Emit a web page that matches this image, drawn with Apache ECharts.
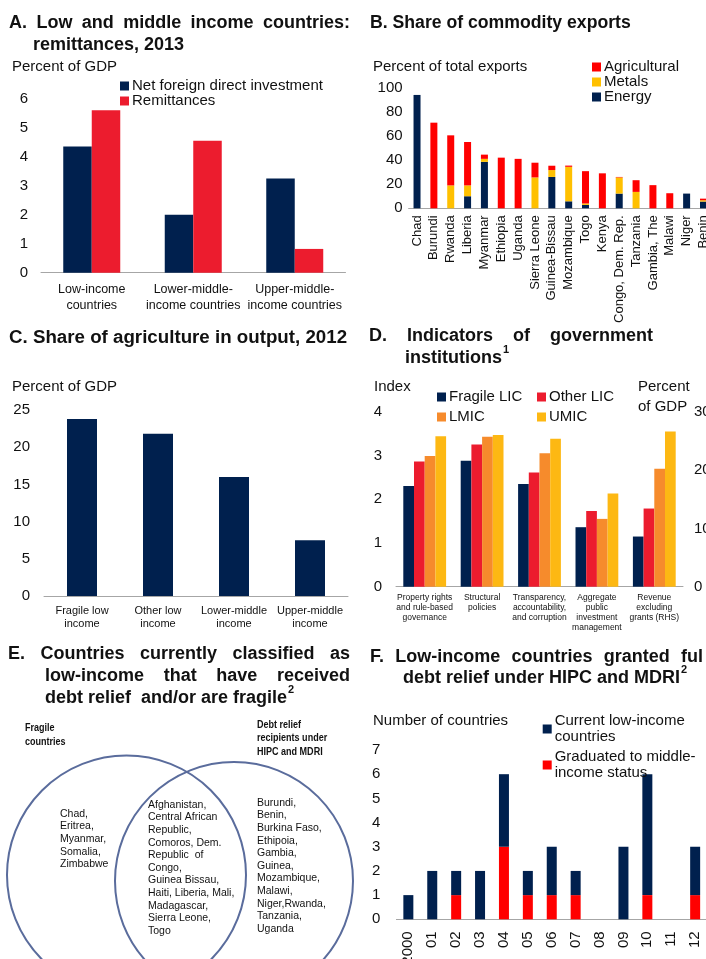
<!DOCTYPE html>
<html>
<head>
<meta charset="utf-8">
<script src="https://cdn.jsdelivr.net/npm/echarts@6/dist/echarts.min.js"></script>
<style>
html,body{margin:0;padding:0;background:#fff;}
#c{width:706px;height:959px;}
</style>
</head>
<body>
<div id="c"></div>
<script>
// ---------- DATA ----------
const catA = ['Low-income\ncountries', 'Lower-middle-\nincome countries', 'Upper-middle-\nincome countries'];
const fdiA = [4.35, 2.0, 3.25];
const remitA = [5.6, 4.55, 0.82];
const ticksA = [0, 1, 2, 3, 4, 5, 6];

const catB = ['Chad', 'Burundi', 'Rwanda', 'Liberia', 'Myanmar', 'Ethiopia', 'Uganda', 'Sierra Leone', 'Guinea-Bissau', 'Mozambique', 'Togo', 'Kenya', 'Congo, Dem. Rep.', 'Tanzania', 'Gambia, The', 'Malawi', 'Niger', 'Benin'];
const energyB = [94, 0, 0, 10, 38.5, 0, 0, 0, 26, 5.8, 2.8, 0, 12.2, 0, 0, 0, 12.2, 5.6];
const metalsB = [0, 0, 19, 9, 2.5, 0, 0, 25.6, 5.7, 28.6, 1.2, 0, 13.4, 13.6, 0, 0, 0, 1.1];
const agriB = [0, 71, 41.5, 36, 3.5, 42, 41, 12.2, 3.6, 1, 26.8, 29, 0.4, 9.7, 19.2, 12.5, 0, 1.3];

const catC = ['Fragile low\nincome', 'Other low\nincome', 'Lower-middle\nincome', 'Upper-middle\nincome'];
const agriShareC = [23.8, 21.8, 16.0, 7.5];

const catD = ['Property rights\nand rule-based\ngovernance', 'Structural\npolicies', 'Transparency,\naccountability,\nand corruption', 'Aggregate\npublic\ninvestment\nmanagement', 'Revenue\nexcluding\ngrants (RHS)'];
const fragileD = [2.30, 2.88, 2.35, 1.36];
const otherD = [2.86, 3.25, 2.61, 1.73];
const lmicD = [2.99, 3.43, 3.05, 1.55];
const umicD = [3.44, 3.47, 3.38, 2.13];
// Revenue excluding grants (percent of GDP, RHS): Fragile LIC, Other LIC, LMIC, UMIC
const revenueD = [8.6, 13.4, 20.2, 26.6];

const catF = ['2000', '01', '02', '03', '04', '05', '06', '07', '08', '09', '10', '11', '12'];
const currentF = [1, 2, 1, 2, 3, 1, 2, 1, 0, 3, 5, 0, 2];
const graduatedF = [0, 0, 1, 0, 3, 1, 1, 1, 0, 0, 1, 0, 1];

const vennFragileOnly = ['Chad,', 'Eritrea,', 'Myanmar,', 'Somalia,', 'Zimbabwe'];
const vennBoth = ['Afghanistan,', 'Central African', 'Republic,', 'Comoros, Dem.', 'Republic  of', 'Congo,', 'Guinea Bissau,', 'Haiti, Liberia, Mali,', 'Madagascar,', 'Sierra Leone,', 'Togo'];
const vennDebtOnly = ['Burundi,', 'Benin,', 'Burkina Faso,', 'Ethipoia,', 'Gambia,', 'Guinea,', 'Mozambique,', 'Malawi,', 'Niger,Rwanda,', 'Tanzania,', 'Uganda'];

// ---------- STYLE ----------
const FF = "'Liberation Sans', Arial, Helvetica, sans-serif";
const TXT = '#111';
const NAVY = '#00204e';
const RED_A = '#ec1c2e';
const RED = '#ff0000';
const YEL = '#ffc000';
const ORANGE = '#f68b2c';
const GOLD = '#fdb813';
const AXC = '#a6a6a6';
const TS = 18; // title font size

const mctx = document.createElement('canvas').getContext('2d');
function measure(text, size, bold) {
  mctx.font = (bold ? 'bold ' : '') + size + 'px ' + FF;
  return mctx.measureText(text).width;
}

function t(text, x, y, o) {
  o = o || {};
  return {
    type: 'text', x: x, y: y, scaleX: o.sx || 1, z: 10,
    style: {
      text: text, fill: o.fill || TXT,
      fontFamily: FF, fontSize: o.size || TS, fontWeight: o.bold === false ? 'normal' : 'bold',
      textAlign: o.align || 'left', textVerticalAlign: 'middle',
      lineHeight: o.lh || undefined
    }
  };
}
function reg(text, x, y, size, align) { return t(text, x, y, {size: size || 15, bold: false, align: align}); }

// justified title line: words spread between x0 and x1
function justify(words, x0, x1, y) {
  const ws = words.map(w => measure(w, TS, true));
  const total = ws.reduce((a, b) => a + b, 0);
  let sx = 1, gap;
  if (words.length > 1) {
    gap = (x1 - x0 - total) / (words.length - 1);
    if (gap < 4) { sx = (x1 - x0 - 4 * (words.length - 1)) / total; gap = 4; }
  }
  const out = [];
  let x = x0;
  words.forEach((w, i) => { out.push(t(w, x, y, {sx: sx})); x += ws[i] * sx + gap; });
  return out;
}
function withSup(text, x, y, sup, dy) {
  const w = measure(text, TS, true);
  return [t(text, x, y), t(sup, x + w + 1, y - (dy || 8), {size: 11})];
}

const graphics = [].concat(
  justify(['A.', 'Low', 'and', 'middle', 'income', 'countries:'], 9, 350, 23),
  [t('remittances, 2013', 33, 45)],
  [t('B. Share of commodity exports', 370, 23, {sx: 0.98})],
  [t('C. Share of agriculture in output, 2012', 9, 338, {sx: 1.04})],
  justify(['D.', 'Indicators', 'of', 'government'], 369, 653, 336),
  withSup('institutions', 405, 358, '1'),
  justify(['E.', 'Countries', 'currently', 'classified', 'as'], 8, 350, 654),
  justify(['low-income', 'that', 'have', 'received'], 45, 350, 676),
  withSup('debt relief  and/or are fragile', 45, 698, '2'),
  justify(['F.', 'Low-income', 'countries', 'granted', 'ful'], 370, 703, 657),
  withSup('debt relief under HIPC and MDRI', 403, 678, '2'),
  [
    reg('Percent of GDP', 12, 67),
    reg('Percent of total exports', 373, 67),
    reg('Percent of GDP', 12, 387),
    reg('Index', 374, 387),
    reg('Percent', 638, 387), reg('of GDP', 638, 407),
    reg('Number of countries', 373, 721),
    // Venn diagram
    {type: 'circle', shape: {cx: 126.5, cy: 875, r: 119.5}, style: {fill: 'none', stroke: '#5a6c9c', lineWidth: 2}},
    {type: 'circle', shape: {cx: 234, cy: 881, r: 119}, style: {fill: 'none', stroke: '#5a6c9c', lineWidth: 2}},
    t('Fragile\ncountries', 25, 735, {size: 11, sx: 0.82, lh: 14}),
    t('Debt relief\nrecipients under\nHIPC and MDRI', 257, 738, {size: 11, sx: 0.82, lh: 13.5}),
    t(vennFragileOnly.join('\n'), 60, 814 + 12.6 * 2, {size: 10.5, bold: false, lh: 12.6}),
    t(vennBoth.join('\n'), 148, 805 + 12.6 * 5, {size: 10.5, bold: false, lh: 12.6}),
    t(vennDebtOnly.join('\n'), 257, 803 + 12.6 * 5, {size: 10.5, bold: false, lh: 12.6})
  ]
);

// ---------- GRIDS ----------
const gridBase = {outerBoundsMode: 'none', containLabel: false};
const grids = [
  {left: 41, width: 304.5, top: 98.7, height: 174},      // A
  {left: 408.6, width: 303.3, top: 87.7, height: 120.6},  // B
  {left: 44, width: 304, top: 410, height: 186},          // C
  {left: 396, width: 287, top: 411.7, height: 175},       // D
  {left: 396.4, width: 310.7, top: 750, height: 169.3}    // F
].map(g => Object.assign({}, gridBase, g));

const axisLineStyle = {show: true, lineStyle: {color: AXC, width: 1}};
function catAxis(gi, data, extra) {
  return Object.assign({
    type: 'category', gridIndex: gi, data: data,
    axisLine: axisLineStyle, axisTick: {show: false},
    axisLabel: {color: TXT, fontFamily: FF, fontSize: 12.5, interval: 0, lineHeight: 16, margin: 9}
  }, extra || {});
}
function valAxis(gi, max, interval, extra) {
  return Object.assign({
    type: 'value', gridIndex: gi, min: 0, max: max, interval: interval,
    axisLine: {show: false}, axisTick: {show: false}, splitLine: {show: false},
    axisLabel: {color: TXT, fontFamily: FF, fontSize: 15, margin: 13}
  }, extra || {});
}

const xAxes = [
  catAxis(0, catA),
  catAxis(1, catB, {axisLabel: {color: TXT, fontFamily: FF, fontSize: 13, interval: 0, rotate: 90, margin: 7}}),
  catAxis(2, catC, {axisLabel: {color: TXT, fontFamily: FF, fontSize: 11, interval: 0, lineHeight: 13.5, margin: 8}}),
  catAxis(3, catD, {axisLabel: {color: TXT, fontFamily: FF, fontSize: 8.5, interval: 0, lineHeight: 10, margin: 6}}),
  catAxis(3, catD, {show: false}),
  catAxis(4, catF, {axisLabel: {color: TXT, fontFamily: FF, fontSize: 15, interval: 0, rotate: 90, margin: 12}})
];
const yAxes = [
  valAxis(0, ticksA[ticksA.length - 1], 1),
  valAxis(1, 100, 20, {axisLabel: {color: TXT, fontFamily: FF, fontSize: 15, margin: 6}}),
  valAxis(2, 25, 5, {axisLabel: {color: TXT, fontFamily: FF, fontSize: 15, margin: 14}}),
  valAxis(3, 4, 1, {axisLabel: {color: TXT, fontFamily: FF, fontSize: 15, margin: 14}}),
  valAxis(3, 30, 10, {position: 'right', axisLabel: {color: TXT, fontFamily: FF, fontSize: 15, margin: 11}}),
  valAxis(4, 7, 1, {axisLabel: {color: TXT, fontFamily: FF, fontSize: 15, margin: 16}})
];

function bar(name, xi, yi, data, color, width, extra) {
  return Object.assign({
    type: 'bar', name: name, xAxisIndex: xi, yAxisIndex: yi, data: data,
    barWidth: width, barGap: '0%', itemStyle: {color: color},
    emphasis: {disabled: true}, animation: false
  }, extra || {});
}
const pad = arr => arr.concat(['-']);
const rhs = v => ['-', '-', '-', '-', v];

const series = [
  bar('Net foreign direct investment', 0, 0, fdiA, NAVY, 28.5),
  bar('Remittances', 0, 0, remitA, RED_A, 28.5),

  bar('Energy', 1, 1, energyB, NAVY, 7, {stack: 'b'}),
  bar('Metals', 1, 1, metalsB, YEL, 7, {stack: 'b'}),
  bar('Agricultural', 1, 1, agriB, RED, 7, {stack: 'b'}),

  bar('Agriculture share', 2, 2, agriShareC, NAVY, 30),

  bar('Fragile LIC', 3, 3, pad(fragileD), NAVY, 10.7),
  bar('Other LIC', 3, 3, pad(otherD), RED_A, 10.7),
  bar('LMIC', 3, 3, pad(lmicD), ORANGE, 10.7),
  bar('UMIC', 3, 3, pad(umicD), GOLD, 10.7),
  bar('Fragile LIC', 4, 4, rhs(revenueD[0]), NAVY, 10.7),
  bar('Other LIC', 4, 4, rhs(revenueD[1]), RED_A, 10.7),
  bar('LMIC', 4, 4, rhs(revenueD[2]), ORANGE, 10.7),
  bar('UMIC', 4, 4, rhs(revenueD[3]), GOLD, 10.7),

  bar('Graduated to middle-income status', 5, 5, graduatedF, RED, 10, {stack: 'f'}),
  bar('Current low-income countries', 5, 5, currentF, NAVY, 10, {stack: 'f'})
];

function legend(data, left, top, gap, extra) {
  return Object.assign({
    data: data, left: left, top: top, orient: 'vertical', itemGap: gap,
    itemWidth: 9, itemHeight: 9, icon: 'rect', padding: 0, selectedMode: false,
    textStyle: {color: TXT, fontFamily: FF, fontSize: 15, lineHeight: 15, padding: [0, 0, 0, -2]}
  }, extra || {});
}
const legends = [
  legend(['Net foreign direct investment', 'Remittances'], 120, 78.5, 0),
  legend(['Agricultural', 'Metals', 'Energy'], 592, 59.5, 0),
  legend(['Fragile LIC', 'LMIC'], 437, 389.5, 5),
  legend(['Other LIC', 'UMIC'], 537, 389.5, 5),
  legend(['Current low-income countries', 'Graduated to middle-income status'], 542.7, 713, 4, {
    formatter: n => n === 'Current low-income countries' ? 'Current low-income\ncountries' : 'Graduated to middle-\nincome status',
    textStyle: {color: TXT, fontFamily: FF, fontSize: 15, lineHeight: 16, padding: [0, 0, 0, -2]}
  })
];

const chart = echarts.init(document.getElementById('c'), null, {renderer: 'canvas'});
chart.setOption({
  backgroundColor: '#fff',
  animation: false,
  grid: grids,
  xAxis: xAxes,
  yAxis: yAxes,
  legend: legends,
  series: series,
  graphic: graphics
});
</script>
</body>
</html>
